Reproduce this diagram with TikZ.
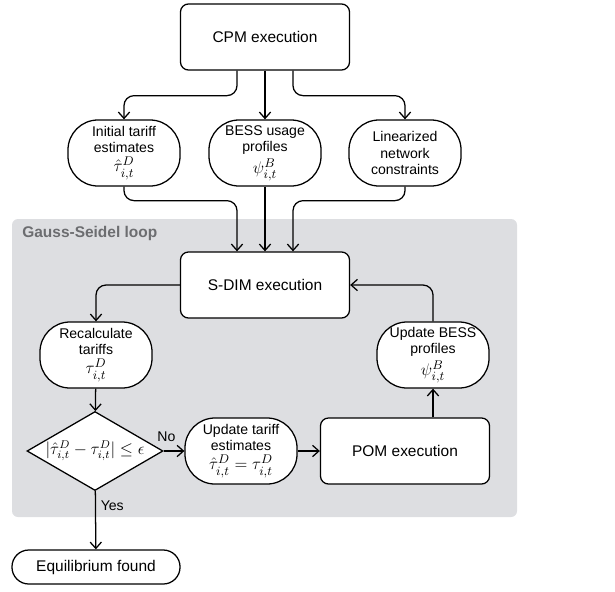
\documentclass[tikz,border=0pt]{standalone}
\usepackage{amsmath, amssymb}
\usepackage{fontspec}
\setmainfont{Liberation Sans}
\usepackage{tikz}
\usetikzlibrary{positioning}
\usetikzlibrary{shapes.geometric,arrows.meta,positioning}
\definecolor{loopgray}{RGB}{221,222,225}
\definecolor{labelgray}{RGB}{108,109,112}
\tikzset{every node/.style={font=\small}}
\newcommand{\bigmath}[1]{{\fontsize{13}{14}\selectfont$#1$}}

\begin{document}
\begin{tikzpicture}[
x=0.025cm, y=-0.025cm,
line width=0.9pt,
>={Straight Barb[length=4.5pt,width=8pt]},
box/.style={
draw,
rectangle,
rounded corners=0.2cm,
align=center,
fill=white,
minimum width=4.225cm,
minimum height=1.65cm,
font=\fontsize{11}{13}\selectfont
},
pill/.style={
draw,
rectangle,
rounded corners=0.75cm,
align=center,
fill=white,
inner sep=1pt,
minimum width=2.8cm,
minimum height=1.65cm,
font=\fontsize{10}{11.5}\selectfont
},
decision/.style={
draw,
diamond,
fill=white,
inner sep=0pt,
minimum width=3.4cm,
minimum height=1.975cm
},
link/.style={->, rounded corners=0.25cm},
tag/.style={font=\fontsize{10}{12}\selectfont}
]

\useasboundingbox (0,0) rectangle (615,591);
\fill[loopgray, rounded corners=0.15cm] (12,219) rectangle (517,517);
\node (looplabel) [anchor=west, text=labelgray, font=\fontsize{11}{13}\selectfont\bfseries] at (17,233) {Gauss-Seidel loop};

\node (cpm) [box] at (265,37) {CPM execution};

\node (init) [pill] at (124,153) {Initial tariff\\estimates\\[2pt]\bigmath{\hat{\tau}_{i,t}^{D}}};
\node (bess) [pill] at (265,153) {BESS usage\\profiles\\[2pt]\bigmath{\psi_{i,t}^{B}}};
\node (lin) [pill] at (405,153) {Linearized\\network\\constraints};

\node (sdim) [box] at (265,285) {S-DIM execution};

\node (recalc) [pill] at (96,355) {Recalculate\\tariffs\\[2pt]\bigmath{\tau_{i,t}^{D}}};
\node (updbess) [pill] at (433,355) {Update BESS\\profiles\\[2pt]\bigmath{\psi_{i,t}^{B}}};

\node (check) [decision, label={[name=checktext, font=\fontsize{12}{13}\selectfont]center:{$|\hat{\tau}_{i,t}^{D}-\tau_{i,t}^{D}|\le\epsilon$}}] at (95,451) {};
\node (updtariff) [pill] at (241,451) {Update tariff\\estimates\\[2pt]\bigmath{\hat{\tau}_{i,t}^{D}=\tau_{i,t}^{D}}};
\node (pom) [box] at (405,451) {POM execution};

\node (equil) [pill, minimum width=4.2cm, minimum height=0.85cm, rounded corners=0.42cm, font=\fontsize{11}{13}\selectfont] at (96,567) {Equilibrium found};

\draw[link] ([xshift=-0.7cm]cpm.south) -- ++(0,-0.625cm) -| (init.north);
\draw[->] (cpm) -- (bess);
\draw[link] ([xshift=0.7cm]cpm.south) -- ++(0,-0.625cm) -| (lin.north);

\draw[link] (init.south) -- ++(0,-0.35cm) -| ([xshift=-0.7cm]sdim.north);
\draw[->] (bess) -- (sdim);
\draw[link] (lin.south) -- ++(0,-0.35cm) -| ([xshift=0.7cm]sdim.north);

\draw[link] (sdim.west) -| (recalc.north);
\draw[link] (updbess.north) |- (sdim.east);

\draw[->] (recalc) -- (check);
\draw[->] (check) -- node (nolabel) [tag, pos=0, above, xshift=2pt, yshift=3pt] {No} (updtariff);
\draw[->] (updtariff) -- (pom);
\draw[->] (updbess.south |- pom.north) -- (updbess.south);
\draw[->] (check) -- node (yeslabel) [tag, pos=0.25, right] {Yes} (equil);

\end{tikzpicture}
\end{document}
